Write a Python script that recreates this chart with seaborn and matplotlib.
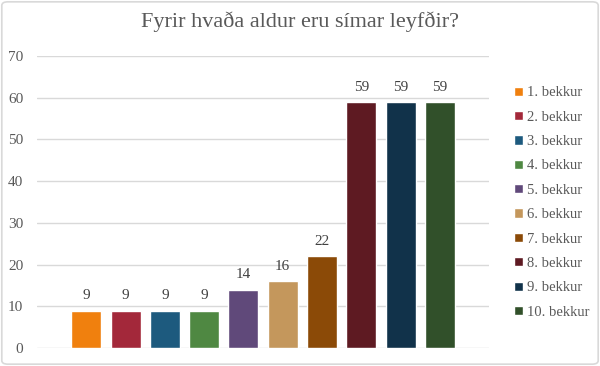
import pandas as pd
import matplotlib.pyplot as plt
import seaborn as sns
from matplotlib.patches import Patch, FancyBboxPatch

# Data
grades = ["1. bekkur", "2. bekkur", "3. bekkur", "4. bekkur", "5. bekkur",
          "6. bekkur", "7. bekkur", "8. bekkur", "9. bekkur", "10. bekkur"]
counts = [9, 9, 9, 9, 14, 16, 22, 59, 59, 59]
colors = ["#F0800E", "#A3283A", "#1D5A7E", "#4F8842", "#60497A",
          "#C4975C", "#8B4A07", "#5E1A22", "#11324A", "#31502A"]
yticks = [0, 10, 20, 30, 40, 50, 60, 70]

df = pd.DataFrame({"grade": grades, "count": counts})

sns.set_theme(style="white")
plt.rcParams["font.family"] = ["Liberation Serif", "DejaVu Serif"]

fig = plt.figure(figsize=(6, 3.66), dpi=100)
ax = fig.add_axes([0.062, 0.049, 0.753, 0.798])

sns.barplot(data=df, x="grade", y="count", hue="grade", palette=colors,
            width=0.765, legend=False, ax=ax, saturation=1)

for i, v in enumerate(counts):
    ax.text(i, v + 2.0, str(v), ha="center", va="bottom", fontsize=11, color="#404040")

ax.set_xlim(-1.25, 10.25)
ax.set_ylim(0, 70)
ax.set_yticks(yticks)
ax.set_yticklabels([str(t) for t in yticks], fontsize=11, color="#595959")
ax.set_xticks([])
ax.set_xlabel("")
ax.set_ylabel("")
ax.tick_params(axis="y", length=0, pad=10)
ax.grid(axis="y", color="#d9d9d9", linewidth=1)
ax.set_axisbelow(True)
for s in ax.spines.values():
    s.set_visible(False)

handles = [Patch(facecolor=c, edgecolor="white", label=g) for g, c in zip(grades, colors)]
fig.legend(handles=handles, loc="upper left", bbox_to_anchor=(0.835, 0.80),
           frameon=False, fontsize=10.5, handlelength=0.6, handleheight=0.6,
           handletextpad=0.3, labelspacing=0.78, labelcolor="#595959")

fig.text(0.5, 0.94, "Fyrir hvaða aldur eru símar leyfðir?", ha="center", va="center",
         fontsize=16, color="#595959")

# light outer border
fig.patches.append(FancyBboxPatch((0.003, 0.005), 0.994, 0.99, boxstyle="round,pad=0,rounding_size=0.01",
                                  transform=fig.transFigure, fill=False, edgecolor="#d9d9d9", linewidth=1.2))

fig.savefig("out.png", dpi=100)
